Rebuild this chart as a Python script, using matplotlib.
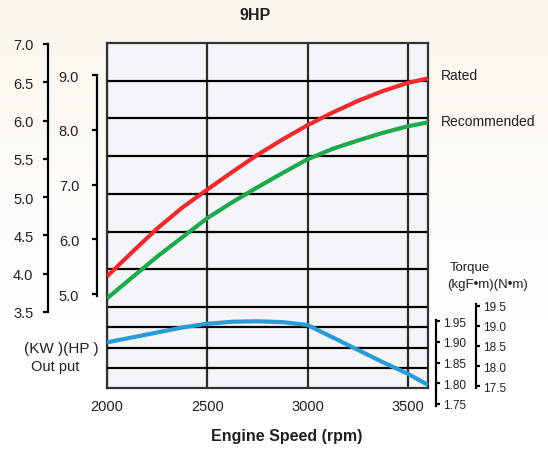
import numpy as np
import matplotlib
matplotlib.use("Agg")
import matplotlib.pyplot as plt
from matplotlib import font_manager

# ---------------- data ----------------
rpm = [2000, 2125, 2250, 2375, 2500, 2625, 2750, 2875, 3000, 3125, 3250, 3375, 3500, 3600]
rated_hp = [5.32, 5.76, 6.19, 6.57, 6.90, 7.22, 7.53, 7.81, 8.07, 8.30, 8.51, 8.69, 8.84, 8.92]
recommended_hp = [4.92, 5.30, 5.68, 6.03, 6.38, 6.67, 6.94, 7.20, 7.45, 7.64, 7.79, 7.93, 8.05, 8.12]
torque_kgfm = [1.899, 1.911, 1.923, 1.935, 1.944, 1.949, 1.950, 1.948, 1.941, 1.911, 1.881, 1.851, 1.823, 1.796]

x_ticks = [2000, 2500, 3000, 3500]
kw_ticks = [3.5, 4.0, 4.5, 5.0, 5.5, 6.0, 6.5, 7.0]
hp_ticks = [5.0, 6.0, 7.0, 8.0, 9.0]
kgfm_ticks = [1.75, 1.80, 1.85, 1.90, 1.95]
nm_ticks = [17.5, 18.0, 18.5, 19.0, 19.5]

title = "9HP"
xlabel = "Engine Speed (rpm)"

# ---------------- style ----------------
names = {f.name for f in font_manager.fontManager.ttflist}
FONT = 'Liberation Sans Narrow' if 'Liberation Sans Narrow' in names else 'Liberation Sans'
NARROW = FONT == 'Liberation Sans Narrow'
plt.rcParams['font.family'] = [FONT, 'DejaVu Sans']
TXT = '#231f20'
k = 1.2 if NARROW else 1.0  # font scale

W, H = 548, 452
fig = plt.figure(figsize=(W / 100, H / 100), dpi=100)

# background gradient
bg = fig.add_axes([0, 0, 1, 1], zorder=-10)
grad = np.linspace(0, 1, 256).reshape(-1, 1)
top_c = np.array([251, 246, 238]) / 255
bot_c = np.array([255, 255, 255]) / 255
t = np.clip(grad / 0.7, 0, 1)
img = top_c * (1 - t)[..., None] + bot_c * t[..., None]
img = img.reshape(256, 1, 3)
bg.imshow(img, aspect='auto', extent=[0, 1, 0, 1])
bg.set_axis_off()


def lin(v1, p1, v2, p2):
    """return function mapping pixel y -> value"""
    return lambda p: v1 + (p - p1) * (v2 - v1) / (p2 - p1)


# main box in pixels
L, R, T, B = 107, 428, 44, 389
pos = [L / W, 1 - B / H, (R - L) / W, (B - T) / H]

ax = fig.add_axes(pos)
ax.set_facecolor('#f3f5f8')
ax.set_xlim(2000, 3600)
kw_grid_map = lin(7.0, 44, 3.5, 308)
ax.set_ylim(kw_grid_map(B), kw_grid_map(T))
ax.set_yticks(kw_ticks[:-1])
ax.set_yticklabels([])
ax.tick_params(axis='y', length=0)
ax.set_xticks(x_ticks)
ax.set_xticklabels([str(v) for v in x_ticks], fontsize=10.5 * k, color=TXT)
ax.tick_params(axis='x', length=0, pad=8)
ax.grid(axis='y', color='black', lw=1.6)
ax.grid(axis='x', color='#2b2b2b', lw=1.6)
for s in ax.spines.values():
    s.set_color('#333333')
    s.set_linewidth(1.6)
ax.set_axisbelow(True)

# lower grid lines from the N·m scale
axn = ax.twinx()
nm_map_box = lin(19.5, 308, 17.5, 389)
axn.set_ylim(nm_map_box(B), nm_map_box(T))
axn.set_yticks(nm_ticks[1:-1])
axn.set_yticklabels([])
axn.tick_params(axis='y', length=0)
axn.grid(axis='y', color='black', lw=1.6)
for s in axn.spines.values():
    s.set_visible(False)

# power curves (HP)
axh = ax.twinx()
hp_map = lin(9.0, 75, 5.0, 295)
axh.set_ylim(hp_map(B), hp_map(T))
axh.plot(rpm, rated_hp, color='#ee2a2f', lw=3.0, solid_capstyle='butt')
axh.plot(rpm, recommended_hp, color='#1fa84d', lw=3.0, solid_capstyle='butt')
axh.set_yticks([])
for s in axh.spines.values():
    s.set_visible(False)

# torque curve (kgf·m)
axt = ax.twinx()
kgf_map = lin(1.95, 322.3, 1.75, 405)
axt.set_ylim(kgf_map(B), kgf_map(T))
axt.plot(rpm, torque_kgfm, color='#2b9ad8', lw=3.0, solid_capstyle='butt')
axt.set_yticks([])
for s in axt.spines.values():
    s.set_visible(False)


def scale_axis(xpx, ptop, pbot, vmap, side, ticks, labels, fs, ticklen, pad):
    a = fig.add_axes([xpx / W, 1 - pbot / H, 0.0001, (pbot - ptop) / H])
    a.set_ylim(vmap(pbot), vmap(ptop))
    a.patch.set_visible(False)
    for kk, s in a.spines.items():
        s.set_visible(kk == side)
    a.spines[side].set_linewidth(1.6)
    a.spines[side].set_color('black')
    a.set_xticks([])
    a.yaxis.set_ticks_position(side)
    a.set_yticks(ticks)
    a.set_yticklabels(labels)
    a.tick_params(axis='y', direction='out', length=ticklen, width=1.6,
                  labelsize=fs, labelcolor=TXT, pad=pad)
    return a


scale_axis(48, 45, 313, lin(7.0, 45, 3.5, 313), 'left', kw_ticks,
           [f"{v:.1f}" for v in kw_ticks], 10.5 * k, 3.5, 7)
scale_axis(96.5, 76, 297, lin(9.0, 75, 5.0, 295), 'left', hp_ticks,
           [f"{v:.1f}" for v in hp_ticks], 10.5 * k, 3.5, 9)
scale_axis(436, 321, 407, lin(1.95, 322.3, 1.75, 405), 'right', kgfm_ticks,
           [f"{v:.2f}" for v in kgfm_ticks], 8.5 * k, 3, 2)
scale_axis(476, 305, 389, lin(19.5, 306.7, 17.5, 387.3), 'right', nm_ticks,
           [f"{v:.1f}" for v in nm_ticks], 8.5 * k, 3, 2)


def ftext(x, y, s, **kw):
    fig.text(x / W, 1 - y / H, s, color=TXT, **kw)


ftext(255, 15, title, fontsize=11.5 * k, fontweight='bold', ha='center', va='center')
ftext(287, 437, xlabel, fontsize=11.5 * k, fontweight='bold', ha='center', va='center')
ftext(441, 76, "Rated", fontsize=10 * k, ha='left', va='center')
ftext(441, 122, "Recommended", fontsize=10 * k, ha='left', va='center')
ftext(470, 268, "Torque", fontsize=9.5 * k, ha='center', va='center')
ftext(487, 285, "(kgF\u2022m)(N\u2022m)", fontsize=9.5 * k, ha='center', va='center')
ftext(61, 349, "(KW )(HP )", fontsize=11 * k, ha='center', va='center')
ftext(55, 367, "Out put", fontsize=10.5 * k, ha='center', va='center')

fig.savefig("out.png", dpi=100)
